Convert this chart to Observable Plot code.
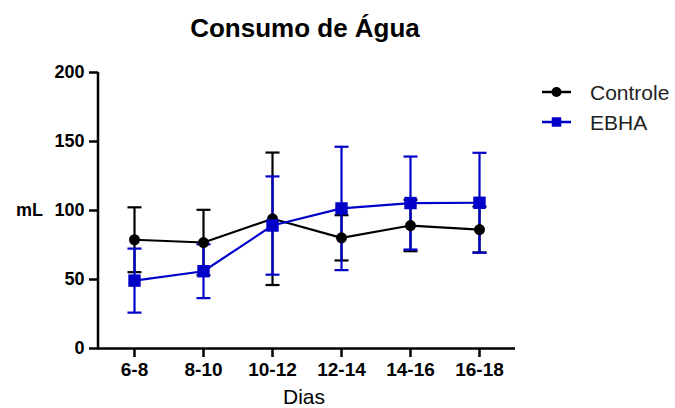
<!DOCTYPE html>
<html>
<head>
<meta charset="utf-8">
<script src="https://cdn.jsdelivr.net/npm/d3@7"></script>
<script src="https://cdn.jsdelivr.net/npm/@observablehq/plot@0.6"></script>
<style>
  html, body { margin: 0; padding: 0; background: white; }
</style>
</head>
<body>
<div id="chart"></div>
<script>
const categorias = ["6-8", "8-10", "10-12", "12-14", "14-16", "16-18"];
const series = ["Controle", "EBHA"];
const cores = ["#000000", "#0000c8"];
const simbolos = ["circle", "square"];
const controleMedia = [78.8, 76.8, 94, 80.2, 89.1, 86.2];
const controleDP = [23.5, 23.7, 48, 16.4, 18.6, 16.6];
const ebhaMedia = [49.2, 56, 89.1, 101.5, 105.4, 105.6];
const ebhaDP = [23.2, 19.5, 35.6, 44.7, 33.7, 36.2];
const yTicks = [0, 50, 100, 150, 200];
const titulo = "Consumo de Água";
const yLabel = "mL";
const xLabel = "Dias";

const build = (nome, medias, dps) => categorias.map((c, i) => ({
  dia: c, serie: nome, m: medias[i], lo: medias[i] - dps[i], hi: medias[i] + dps[i]
}));
const controle = build(series[0], controleMedia, controleDP);
const ebha = build(series[1], ebhaMedia, ebhaDP);

// horizontal cap symbol for error bars
const cap = {
  draw(ctx, size) {
    const w = Math.sqrt(size / Math.PI);
    ctx.moveTo(-w, 0);
    ctx.lineTo(w, 0);
  }
};

const errMarks = (data, color) => [
  Plot.ruleX(data, {x: "dia", y1: "lo", y2: "hi", stroke: color, strokeWidth: 2.2}),
  Plot.dot(data, {x: "dia", y: "hi", symbol: cap, r: 7, stroke: color, strokeWidth: 2.2, fill: "none"}),
  Plot.dot(data, {x: "dia", y: "lo", symbol: cap, r: 7, stroke: color, strokeWidth: 2.2, fill: "none"})
];

const plot = Plot.plot({
  width: 675,
  height: 408,
  marginLeft: 98,
  marginRight: 160,
  marginTop: 72,
  marginBottom: 60,
  style: {fontFamily: "'Liberation Sans', Arial, sans-serif", background: "white", color: "black"},
  x: {type: "point", domain: categorias, padding: 0.5, label: null},
  y: {domain: [0, 200], label: null},
  marks: [
    Plot.axisY({ticks: yTicks, tickSize: 9, tickPadding: 5, fontSize: 18, fontWeight: "bold", strokeWidth: 2.5, label: null}),
    Plot.axisX({tickSize: 9, tickPadding: 5, fontSize: 19, fontWeight: "bold", strokeWidth: 2.5, label: null}),
    Plot.ruleY([0], {strokeWidth: 2.5}),
    ...errMarks(controle, cores[0]),
    ...errMarks(ebha, cores[1]),
    Plot.line(controle, {x: "dia", y: "m", stroke: cores[0], strokeWidth: 2.2}),
    Plot.dot(controle, {x: "dia", y: "m", symbol: simbolos[0], r: 5.5, fill: cores[0], stroke: "none"}),
    Plot.line(ebha, {x: "dia", y: "m", stroke: cores[1], strokeWidth: 2.2}),
    Plot.dot(ebha, {x: "dia", y: "m", symbol: simbolos[1], r: 7, fill: cores[1], stroke: "none"})
  ]
});

document.getElementById("chart").appendChild(plot);

const svg = d3.select(plot);
const ys = plot.scale("y");
const left = 98;
const font = "'Liberation Sans', Arial, sans-serif";

// y axis line
svg.append("line")
  .attr("x1", left).attr("x2", left)
  .attr("y1", ys.apply(200)).attr("y2", ys.apply(0) + 1.25)
  .attr("stroke", "black").attr("stroke-width", 2.5);

// title
svg.append("text")
  .attr("x", 305).attr("y", 37)
  .attr("text-anchor", "middle")
  .attr("font-family", font).attr("font-size", 26).attr("font-weight", "bold")
  .attr("fill", "black")
  .text(titulo);

// y label
svg.append("text")
  .attr("x", 43).attr("y", ys.apply(100))
  .attr("dy", "0.36em")
  .attr("text-anchor", "end")
  .attr("font-family", font).attr("font-size", 18).attr("font-weight", "bold")
  .attr("fill", "black")
  .text(yLabel);

// x label
svg.append("text")
  .attr("x", 304).attr("y", 404)
  .attr("text-anchor", "middle")
  .attr("font-family", font).attr("font-size", 21)
  .attr("fill", "black")
  .text(xLabel);

// legend
const legendY = [92, 122];
series.forEach((s, i) => {
  const g = svg.append("g");
  g.append("line")
    .attr("x1", 542).attr("x2", 571)
    .attr("y1", legendY[i]).attr("y2", legendY[i])
    .attr("stroke", cores[i]).attr("stroke-width", 2.5);
  const sym = i === 0 ? d3.symbolCircle : d3.symbolSquare;
  const size = i === 0 ? Math.PI * 5 * 5 : 9.5 * 9.5;
  g.append("path")
    .attr("d", d3.symbol(sym, size)())
    .attr("transform", `translate(556.5,${legendY[i]})`)
    .attr("fill", cores[i]);
  g.append("text")
    .attr("x", 590).attr("y", legendY[i])
    .attr("dy", "0.36em")
    .attr("text-anchor", "start")
    .attr("font-family", font).attr("font-size", 21)
    .attr("fill", "#222")
    .text(s);
});
</script>
</body>
</html>
